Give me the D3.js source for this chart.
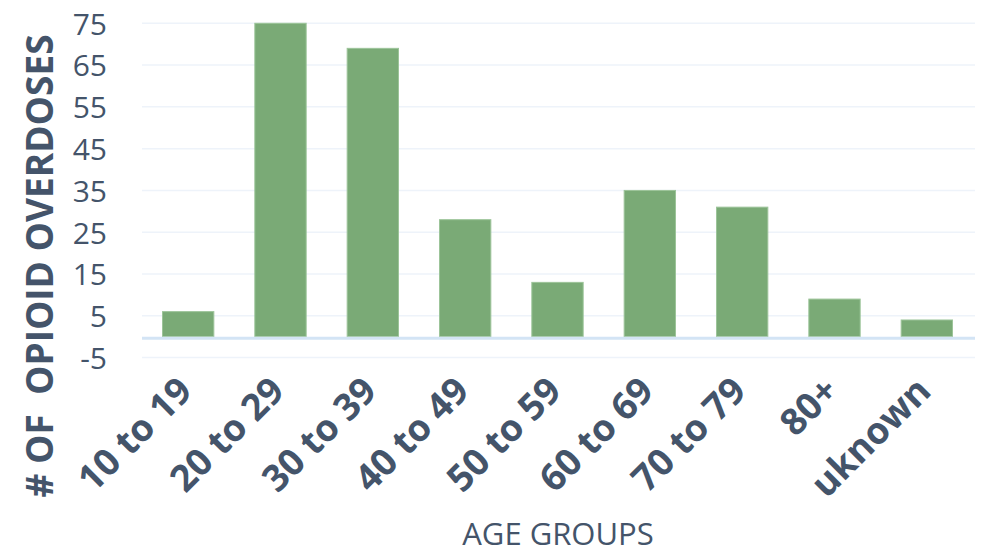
<!DOCTYPE html>
<html><head><meta charset="utf-8">
<script src="https://cdn.jsdelivr.net/npm/d3@7"></script>
<style>body{margin:0;background:#fff}svg{display:block}</style>
</head><body>
<script>
const categories = ["10 to 19","20 to 29","30 to 39","40 to 49","50 to 59","60 to 69","70 to 79","80+","uknown"];
const overdoses = [6,75,69,28,13,35,31,9,4];
const yTicks = [-5,5,15,25,35,45,55,65,75];
const yTitle = "# OF  OPIOID OVERDOSES";
const xTitle = "AGE GROUPS";

const W=982,H=548, textColor="#44546a";
const svg=d3.select("body").append("svg").attr("width",W).attr("height",H);
const x=d3.scaleBand().domain(categories).range([142,973]).paddingInner(0.444).paddingOuter(0.222);
const y=d3.scaleLinear().domain([0,75]).range([336.7,336.7-75*4.179]);

// gridlines
svg.append("g").selectAll("line").data(yTicks).join("line")
 .attr("x1",142).attr("x2",975).attr("y1",d=>y(d)).attr("y2",d=>y(d))
 .attr("stroke","#eef3fa").attr("stroke-width",1.5);

// y tick labels
const yAxis=d3.axisLeft(y).tickValues(yTicks).tickFormat(d=>String(d)).tickSize(0).tickPadding(0);
const ga=svg.append("g").attr("transform","translate(107,0)").call(yAxis);
ga.select(".domain").remove();
ga.selectAll("text").attr("font-family","'Open Sans'").attr("font-size",30).attr("fill",textColor).attr("dy","0.36em");

// bars
svg.append("g").selectAll("rect").data(overdoses).join("rect")
 .attr("x",(d,i)=>x(categories[i])).attr("width",x.bandwidth())
 .attr("y",d=>y(d)).attr("height",d=>y(0)-y(d))
 .attr("fill","#7aaa76").attr("stroke","#9cc499").attr("stroke-width",1);

// zero line
svg.append("line").attr("x1",142).attr("x2",975).attr("y1",y(0)+1.5).attr("y2",y(0)+1.5)
 .attr("stroke","#d3e4f5").attr("stroke-width",3);

// x labels
const xAxis=d3.axisBottom(x).tickSize(0).tickPadding(0);
const gx=svg.append("g").call(xAxis);
gx.select(".domain").remove();
gx.selectAll(".tick").attr("transform",d=>`translate(${x(d)+x.bandwidth()/2+6},393)`);
gx.selectAll("text").attr("font-family","'Open Sans'").attr("font-weight","bold").attr("font-size",37)
 .attr("fill",textColor).attr("text-anchor","end").attr("dy",0).attr("y",0)
 .attr("transform","rotate(-45)");

// titles
svg.append("text").attr("transform","translate(53,266) rotate(-90)").attr("text-anchor","middle")
 .attr("font-family","'Open Sans'").attr("font-weight","bold").attr("font-size",37).attr("fill",textColor)
 .attr("xml:space","preserve").style("white-space","pre").text(yTitle);
svg.append("text").attr("x",558).attr("y",545).attr("text-anchor","middle")
 .attr("font-family","'Open Sans'").attr("font-size",31).attr("fill",textColor).text(xTitle);
</script>
</body></html>
